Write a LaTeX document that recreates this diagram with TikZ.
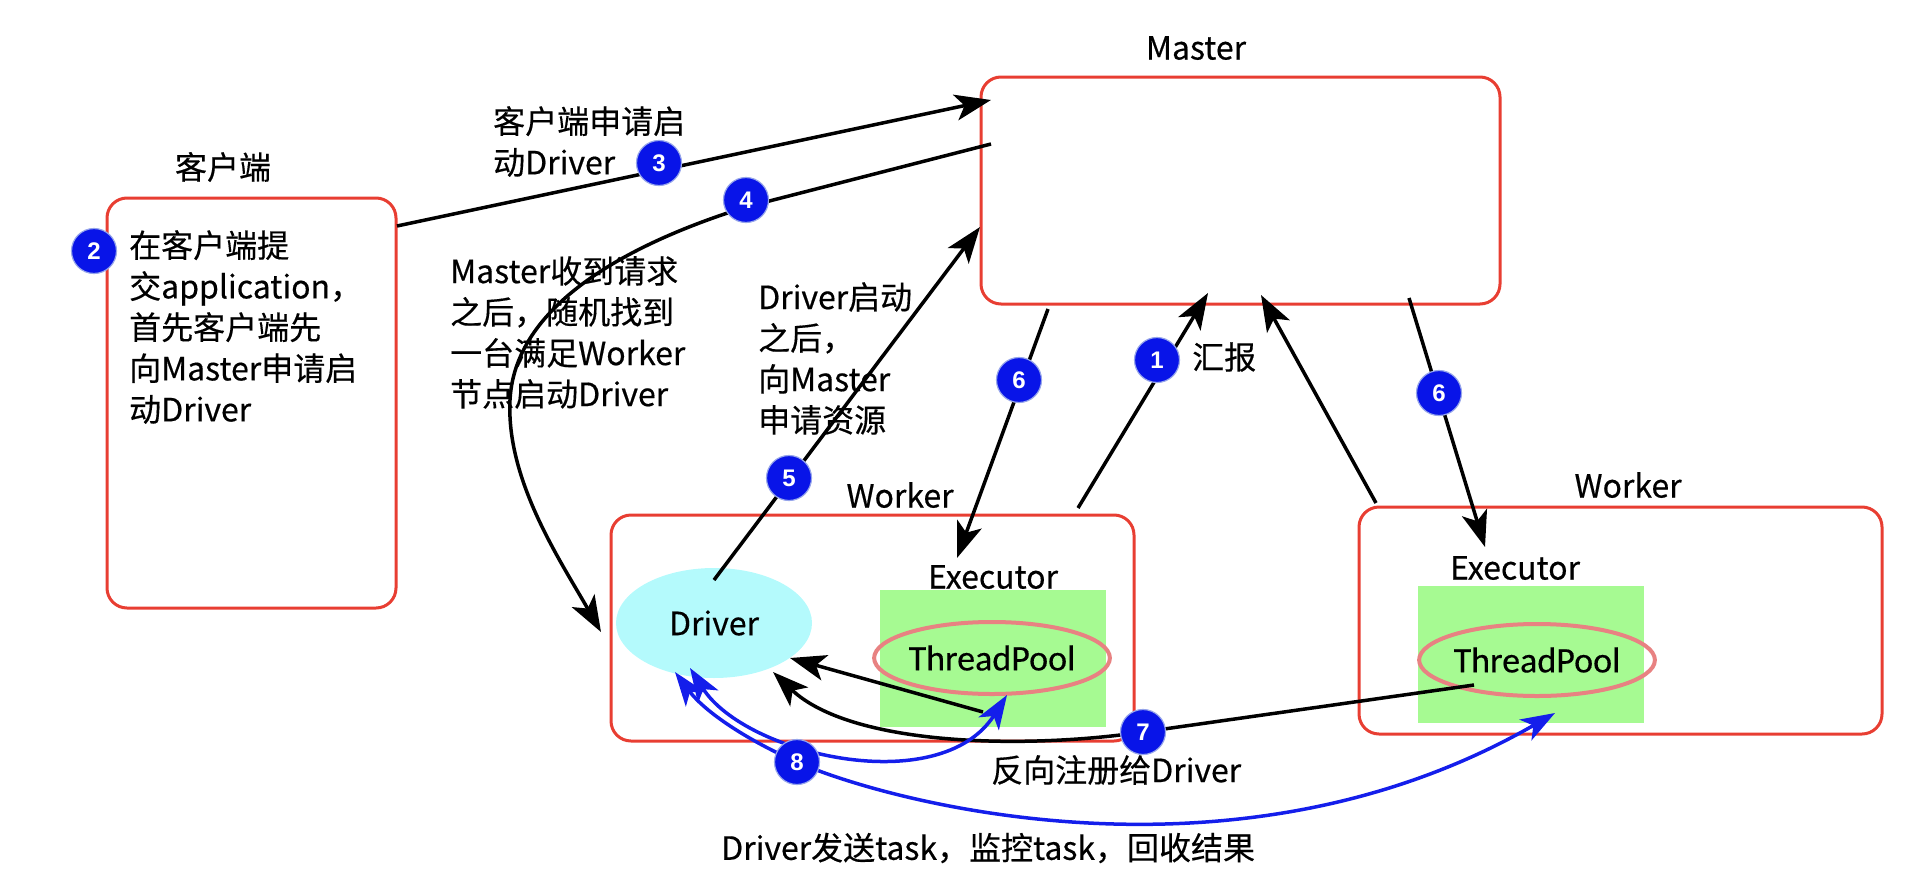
\documentclass[tikz,border=0pt]{standalone}
\usepackage{fontspec}
\newfontfamily\cjk{Noto Sans CJK SC}[FakeBold=0.4]
\newfontfamily\cali{Carlito}[FakeBold=0.3]
\newfontfamily\badgef{Liberation Sans}
\usetikzlibrary{arrows.meta,shapes.geometric}
\definecolor{boxred}{RGB}{232,62,50}
\definecolor{badgeblue}{RGB}{8,20,232}
\definecolor{badgering}{RGB}{150,165,235}
\definecolor{drvcyan}{RGB}{180,250,252}
\definecolor{exgreen}{RGB}{166,250,146}
\definecolor{tppink}{RGB}{232,130,130}
\definecolor{lnblue}{RGB}{20,30,235}
\begin{document}
\begin{tikzpicture}[x=1pt,y=-1pt,
  redbox/.style={draw=boxred, line width=3pt, rounded corners=20pt, rectangle, inner sep=0pt},
  exbox/.style={fill=exgreen, rectangle, minimum width=226pt, minimum height=137pt, inner sep=0pt},
  drv/.style={ellipse, fill=drvcyan, minimum width=196pt, minimum height=110pt, inner sep=0pt, font=\cjk\fontsize{32}{41}\selectfont},
  tp/.style={ellipse, draw=tppink, line width=4pt, minimum width=192pt, minimum height=72pt, inner sep=0pt, font=\cali\fontsize{36}{40}\selectfont},
  lbl/.style={font=\cjk\fontsize{32}{41}\selectfont, inner sep=0pt},
  blk/.style={lbl, align=left, anchor=north west},
  badge/.style={circle, fill=badgeblue, draw=badgering, line width=1.2pt, minimum size=45pt, inner sep=0pt, text=white, font=\badgef\bfseries\fontsize{24}{24}\selectfont},
  arr/.style={draw=black, line width=3.5pt, -{Stealth[length=36pt,width=26pt,inset=9pt]}},
  barr/.style={draw=lnblue, line width=3.5pt, {Stealth[length=34pt,width=24pt,inset=9pt]}-{Stealth[length=34pt,width=24pt,inset=9pt]}},
]
\useasboundingbox (0,0) rectangle (1908,886);

% boxes
\node[redbox, minimum width=519pt, minimum height=227pt] (master) at (1240.5,190.5) {};
\node[redbox, minimum width=289pt, minimum height=410pt] (client) at (251.5,403) {};
\node[redbox, minimum width=523pt, minimum height=226pt] (worker1) at (872.5,628) {};
\node[redbox, minimum width=523pt, minimum height=227pt] (worker2) at (1620.5,620.5) {};
\node[exbox] (exec1) at (993,658.5) {};
\node[exbox] (exec2) at (1531,654.5) {};
\node[drv] (driver) at (714,623) {Driver};
\node[tp] (tp1) at (992,658) {ThreadPool};
\node[tp] (tp2) at (1537,660) {ThreadPool};

% labels
\node[lbl] (mlabel) at (1196,48) {Master};
\node[lbl] (clabel) at (223,167) {客户端};
\node[lbl] (w1label) at (900,495) {Worker};
\node[lbl] (w2label) at (1628,485) {Worker};
\node[lbl] (e1label) at (993,577) {Executor};
\node[lbl] (e2label) at (1515,568) {Executor};

\node[blk] (ctext) at (129,230) {在客户端提\\交application，\\首先客户端先\\向Master申请启\\动Driver};
\node[blk] (t3) at (493,106) {客户端申请启\\动Driver};
\node[blk] (t4) at (450,256) {Master收到请求\\之后，随机找到\\一台满足Worker\\节点启动Driver};
\node[blk] (t5) at (758,282) {Driver启动\\之后，\\向Master\\申请资源};
\node[lbl, anchor=west] (t1) at (1192,357) {汇报};
\node[lbl, anchor=west] (t7) at (991,770) {反向注册给Driver};
\node[lbl, anchor=west] (t8) at (721,848) {Driver发送task，监控task，回收结果};

% connector end points
\coordinate (c3s) at (397,226); \coordinate (c3e) at (991,100);
\coordinate (c4s) at (991,144); \coordinate (c4a) at (746,207);
\coordinate (c4b) at (510,400); \coordinate (c4e) at (601,632);
\coordinate (c5s) at (714,580); \coordinate (c5e) at (980,227);
\coordinate (c6as) at (1048,309); \coordinate (c6ae) at (957,558);
\coordinate (c1s) at (1078,508); \coordinate (c1e) at (1208,293);
\coordinate (cws) at (1376,503); \coordinate (cwe) at (1261,295);
\coordinate (c6bs) at (1409,298); \coordinate (c6be) at (1485,547);
\coordinate (c7as) at (983,712); \coordinate (c7ae) at (790,658);
\coordinate (c7bs) at (1474,685); \coordinate (c7m) at (1143,732); \coordinate (c7be) at (773,672);
\coordinate (c8as) at (690,668); \coordinate (c8ae) at (1007,695);
\coordinate (c8bs) at (675,672); \coordinate (c8m) at (797,762); \coordinate (c8be) at (1555,713);

% connectors
\draw[arr] (c3s) -- (c3e);
\draw[arr] (c4s) -- (c4a) .. controls (640,240) and (515,300) .. (c4b) .. controls (506,480) and (560,560) .. (c4e);
\draw[arr] (c5s) -- (c5e);
\draw[arr] (c6as) -- (c6ae);
\draw[arr] (c1s) -- (c1e);
\draw[arr] (cws) -- (cwe);
\draw[arr] (c6bs) -- (c6be);
\draw[arr] (c7as) -- (c7ae);
\draw[arr] (c7bs) -- (c7m) .. controls (1020,750) and (850,745) .. (c7be);
\draw[barr] (c8as) .. controls (745,755) and (940,800) .. (c8ae);
\draw[barr] (c8bs) .. controls (705,712) and (747,740) .. (c8m) .. controls (877,798) and (1230,900) .. (c8be);

% badges
\node[badge] (b1) at (1157,360) {1};
\node[badge] (b2) at (94,251) {2};
\node[badge] (b3) at (659,163) {3};
\node[badge] (b4) at (746,200) {4};
\node[badge] (b5) at (789,478) {5};
\node[badge] (b6a) at (1019,380) {6};
\node[badge] (b6b) at (1439,393) {6};
\node[badge] (b7) at (1143,732) {7};
\node[badge] (b8) at (797,762) {8};
\end{tikzpicture}
\end{document}
